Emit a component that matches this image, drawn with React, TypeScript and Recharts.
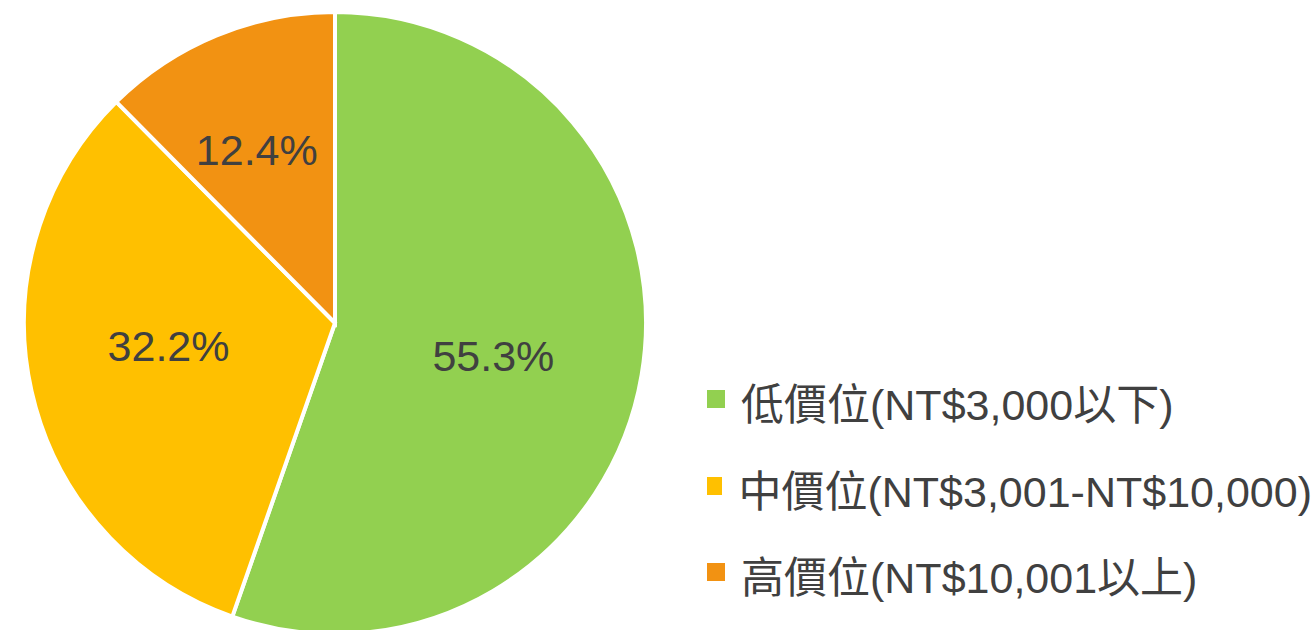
import React from 'react';
import { PieChart, Pie, Cell, Legend } from 'recharts';

const categories = ['低價位(NT$3,000以下)', '中價位(NT$3,001-NT$10,000)', '高價位(NT$10,001以上)'];
const values = [55.3, 32.2, 12.4];
const colors = ['#92D050', '#FFC000', '#F29212'];

const data = categories.map((name, i) => ({ name, value: values[i] }));

const FONT = '"Liberation Sans", Arial, Helvetica, "Noto Sans CJK TC", sans-serif';
const TEXT = '#404040';
const RAD = Math.PI / 180;
const LABEL_RADIUS = [0.52, 0.54, 0.61];
const LABEL_ANGLE_SHIFT = [-2, -5, 2];

const renderLabel = (props: any) => {
  const { cx, cy, midAngle, outerRadius, value, index } = props;
  const r = outerRadius * LABEL_RADIUS[index];
  const a = (midAngle + LABEL_ANGLE_SHIFT[index]) * RAD;
  const x = cx + r * Math.cos(-a);
  const y = cy + r * Math.sin(-a);
  return (
    <text x={x} y={y} fill={TEXT} textAnchor="middle" dominantBaseline="central" fontSize={43} fontFamily={FONT}>
      {`${value.toFixed(1)}%`}
    </text>
  );
};

const renderLegend = () => (
  <div style={{ fontFamily: FONT }}>
    {categories.map((name, i) => (
      <div key={name} style={{ display: 'flex', alignItems: 'center', height: 86.5 }}>
        <div style={{ width: 18, height: 18, background: colors[i], marginRight: 16, marginTop: -4 }} />
        <span style={{ fontSize: 43, color: TEXT, whiteSpace: 'nowrap' }}>{name}</span>
      </div>
    ))}
  </div>
);

export default function App() {
  return (
    <div style={{ position: 'absolute', left: 0, top: 0, width: 1312, height: 630, background: '#fff' }}>
      <PieChart width={1312} height={630} margin={{ top: 0, right: 0, bottom: 0, left: 0 }}>
        <Pie
          data={data}
          dataKey="value"
          nameKey="name"
          cx={335}
          cy={323}
          outerRadius={311}
          startAngle={90}
          endAngle={-270}
          stroke="#ffffff"
          strokeWidth={4}
          label={renderLabel}
          labelLine={false}
          isAnimationActive={false}
        >
          {data.map((d, i) => (
            <Cell key={d.name} fill={colors[i]} />
          ))}
        </Pie>
        <Legend
          content={renderLegend}
          layout="vertical"
          wrapperStyle={{ position: 'absolute', left: 707, top: 358, width: 605 }}
        />
      </PieChart>
    </div>
  );
}
